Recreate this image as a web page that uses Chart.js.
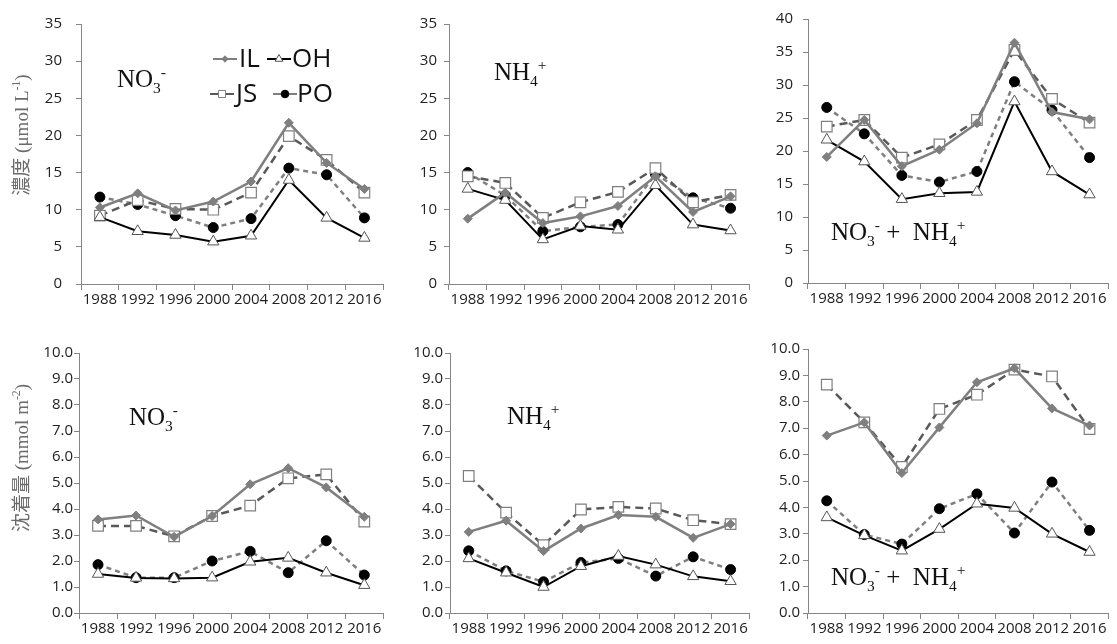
<!DOCTYPE html>
<html>
<head>
<meta charset="utf-8">
<script src="https://cdn.jsdelivr.net/npm/chart.js@4.4.1/dist/chart.umd.min.js"></script>
<style>
  html, body { margin: 0; padding: 0; background: #fff; }
  #wrap { position: relative; width: 1117px; height: 644px; overflow: hidden; }
  #wrap canvas { position: absolute; }
</style>
</head>
<body>
<div id="wrap"></div>
<script>
// ---- data ----
const years = ['1988', '1992', '1996', '2000', '2004', '2008', '2012', '2016'];
const sites = ['IL', 'OH', 'JS', 'PO'];

// concentration, umol L-1
const no3ConcIL = [10.3, 12.2, 9.9, 11.1, 13.8, 21.7, 16.3, 12.8];
const no3ConcOH = [9.0, 7.1, 6.6, 5.7, 6.5, 14.0, 8.9, 6.2];
const no3ConcJS = [9.2, 11.3, 10.1, 10.0, 12.3, 19.9, 16.7, 12.3];
const no3ConcPO = [11.7, 10.7, 9.2, 7.6, 8.8, 15.6, 14.7, 8.9];

const nh4ConcIL = [8.8, 12.3, 8.2, 9.1, 10.5, 14.5, 9.7, 11.8];
const nh4ConcOH = [12.8, 11.3, 6.0, 7.8, 7.3, 13.3, 8.0, 7.2];
const nh4ConcJS = [14.5, 13.6, 8.9, 11.0, 12.4, 15.6, 11.0, 12.0];
const nh4ConcPO = [15.0, 11.9, 7.1, 7.7, 8.0, 14.8, 11.6, 10.2];

const sumConcIL = [19.1, 24.7, 17.7, 20.2, 24.2, 36.4, 25.9, 24.8];
const sumConcOH = [21.7, 18.4, 12.7, 13.6, 13.8, 27.5, 16.9, 13.4];
const sumConcJS = [23.7, 24.7, 19.0, 21.0, 24.7, 35.3, 27.9, 24.3];
const sumConcPO = [26.6, 22.6, 16.3, 15.3, 16.9, 30.5, 26.2, 19.0];

// deposition, mmol m-2
const no3DepIL = [3.6, 3.75, 2.93, 3.73, 4.95, 5.57, 4.83, 3.7];
const no3DepOH = [1.5, 1.35, 1.33, 1.36, 1.97, 2.12, 1.55, 1.07];
const no3DepJS = [3.35, 3.35, 2.95, 3.73, 4.13, 5.18, 5.33, 3.52];
const no3DepPO = [1.86, 1.36, 1.36, 2.0, 2.37, 1.55, 2.78, 1.46];

const nh4DepIL = [3.12, 3.55, 2.38, 3.25, 3.77, 3.7, 2.89, 3.42];
const nh4DepOH = [2.1, 1.55, 1.0, 1.8, 2.19, 1.86, 1.41, 1.22];
const nh4DepJS = [5.27, 3.86, 2.61, 3.98, 4.08, 4.02, 3.57, 3.42];
const nh4DepPO = [2.39, 1.62, 1.2, 1.94, 2.1, 1.42, 2.16, 1.67];

const sumDepIL = [6.72, 7.22, 5.3, 7.03, 8.74, 9.27, 7.75, 7.1];
const sumDepOH = [3.62, 2.94, 2.36, 3.18, 4.14, 3.98, 3.0, 2.31];
const sumDepJS = [8.65, 7.22, 5.53, 7.73, 8.27, 9.22, 8.96, 6.97];
const sumDepPO = [4.25, 2.97, 2.61, 3.95, 4.51, 3.03, 4.96, 3.13];

// ---- styles ----
const seriesStyle = {
  IL: { borderColor: '#7f7f7f', borderWidth: 2.5, pointStyle: 'rectRot', pointRadius: 4.5,
        pointBackgroundColor: '#7f7f7f', pointBorderColor: '#7f7f7f', pointBorderWidth: 1 },
  OH: { borderColor: '#000', borderWidth: 2, pointStyle: 'triangle', pointRadius: 6.5,
        pointBackgroundColor: '#fff', pointBorderColor: '#555', pointBorderWidth: 1 },
  JS: { borderColor: '#595959', borderWidth: 2.5, borderDash: [8, 5], pointStyle: 'rect', pointRadius: 7.5,
        pointBackgroundColor: '#fff', pointBorderColor: '#7f7f7f', pointBorderWidth: 1.2 },
  PO: { borderColor: '#7f7f7f', borderWidth: 2.5, borderDash: [5, 4], pointStyle: 'circle', pointRadius: 5,
        pointBackgroundColor: '#000', pointBorderColor: '#000', pointBorderWidth: 1 },
};
// smaller markers in the legend
const legendRadius = { IL: 3.2, OH: 4.5, JS: 5, PO: 3.8 };

const NO3 = [{ t: 'NO' }, { t: '3', sub: true }, { t: '-', sup: true }];
const NH4 = [{ t: 'NH' }, { t: '4', sub: true }, { t: '+', sup: true }];
const SUM = [...NO3, { t: ' +  ' }, ...NH4];
const concTitle = [{ t: '濃度', cjk: true }, { t: ' (μmol L' }, { t: '-1', sup: true }, { t: ')' }];
const depTitle = [{ t: '沈着量', cjk: true }, { t: ' (mmol m' }, { t: '-2', sup: true }, { t: ')' }];

// canvas box [x, y, w, h] and plot area [left, top, right, bottom], page pixels
const panels = [
  { box: [0, 0, 392, 320], area: [81, 24, 388, 284], max: 35, step: 5, dec: 0, ypad: 14,
    data: [no3ConcIL, no3ConcOH, no3ConcJS, no3ConcPO], label: NO3, labelAt: [36, 63],
    title: concTitle, titleAt: [21, 111], legend: true },
  { box: [392, 0, 366, 320], area: [449, 24, 755, 284], max: 35, step: 5, dec: 0, ypad: 7,
    data: [nh4ConcIL, nh4ConcOH, nh4ConcJS, nh4ConcPO], label: NH4, labelAt: [45, 56] },
  { box: [758, 0, 359, 320], area: [808, 16, 1113, 283], max: 40, step: 5, dec: 0, ypad: 10,
    data: [sumConcIL, sumConcOH, sumConcJS, sumConcPO], label: SUM, labelAt: [23, 221] },
  { box: [0, 320, 392, 324], area: [79, 353, 387, 613], max: 10, step: 1, dec: 1, ypad: 1,
    data: [no3DepIL, no3DepOH, no3DepJS, no3DepPO], label: NO3, labelAt: [50, 72],
    title: depTitle, titleAt: [21, 105] },
  { box: [392, 320, 366, 324], area: [450, 353, 757, 613], max: 10, step: 1, dec: 1, ypad: 2,
    data: [nh4DepIL, nh4DepOH, nh4DepJS, nh4DepPO], label: NH4, labelAt: [57, 71] },
  { box: [758, 320, 359, 324], area: [808, 349, 1115, 613], max: 10, step: 1, dec: 1, ypad: 3,
    data: [sumDepIL, sumDepOH, sumDepJS, sumDepPO], label: SUM, labelAt: [23, 236] },
];

// legend layout inside panel 1, relative to the plot area
const legendSpots = {
  IL: { mx: 144, tx: 158, y: 35 },
  OH: { mx: 198, tx: 211, y: 35 },
  JS: { mx: 141, tx: 155, y: 70 },
  PO: { mx: 204, tx: 216, y: 70 },
};

const SERIF = "'Liberation Serif', 'Times New Roman', serif";
const SANS = "'Open Sans', 'Noto Sans', sans-serif";
const CJK = "'Noto Sans CJK JP', sans-serif";

// draws text runs with sub/superscripts, starting at x on baseline y
function richWidth(ctx, runs, size, family) {
  let w = 0;
  runs.forEach((r) => {
    const s = r.sub || r.sup ? size * 0.62 : size;
    ctx.font = `${s}px ${r.cjk ? CJK : family}`;
    w += ctx.measureText(r.t).width;
  });
  return w;
}
function drawRich(ctx, runs, x, y, size, family) {
  ctx.textBaseline = 'alphabetic';
  ctx.textAlign = 'left';
  runs.forEach((r) => {
    const s = r.sub || r.sup ? size * 0.62 : size;
    ctx.font = `${s}px ${r.cjk ? CJK : family}`;
    const dy = r.sub ? size * 0.22 : r.sup ? -size * 0.42 : 0;
    ctx.fillText(r.t, x, y + dy);
    x += ctx.measureText(r.t).width;
  });
}

const extras = {
  id: 'extras',
  afterDraw(chart) {
    const p = chart.options.plugins.extras;
    const ctx = chart.ctx;
    const a = chart.chartArea;
    ctx.save();
    // panel label (NO3-, NH4+ ...)
    ctx.fillStyle = '#111';
    drawRich(ctx, p.label, a.left + p.labelAt[0], a.top + p.labelAt[1], 25, SERIF);
    // y axis title, rotated
    if (p.title) {
      ctx.save();
      ctx.fillStyle = '#6b6b6b';
      ctx.translate(p.titleAt[0], a.top + p.titleAt[1]);
      ctx.rotate(-Math.PI / 2);
      const w = richWidth(ctx, p.title, 19, SERIF);
      drawRich(ctx, p.title, -w / 2, 7, 19, SERIF);
      ctx.restore();
    }
    // legend
    if (p.legend) {
      chart.data.datasets.forEach((ds) => {
        const s = legendSpots[ds.label];
        const st = seriesStyle[ds.label];
        const mx = a.left + s.mx, my = a.top + s.y;
        ctx.strokeStyle = st.borderColor;
        ctx.lineWidth = 2;
        ctx.setLineDash([]);
        ctx.beginPath();
        ctx.moveTo(mx - 12, my);
        ctx.lineTo(mx + 12, my);
        ctx.stroke();
        ctx.fillStyle = st.pointBackgroundColor;
        ctx.strokeStyle = st.pointBorderColor;
        ctx.lineWidth = 1;
        Chart.helpers.drawPoint(ctx, { pointStyle: st.pointStyle, radius: legendRadius[ds.label], rotation: 0, borderWidth: 1 }, mx, my);
        ctx.fillStyle = '#111';
        ctx.font = `26px ${SANS}`;
        ctx.textBaseline = 'middle';
        ctx.textAlign = 'left';
        ctx.fillText(ds.label, a.left + s.tx, my + 1);
      });
    }
    ctx.restore();
  },
};

const wrap = document.getElementById('wrap');

panels.forEach((pn) => {
  const [bx, by, bw, bh] = pn.box;
  const [al, at, ar, ab] = pn.area;
  const cv = document.createElement('canvas');
  cv.width = bw; cv.height = bh;
  cv.style.left = bx + 'px'; cv.style.top = by + 'px';
  cv.style.width = bw + 'px'; cv.style.height = bh + 'px';
  wrap.appendChild(cv);

  const datasets = sites.map((name, i) => ({
    label: name,
    data: pn.data[i],
    fill: false,
    tension: 0,
    ...seriesStyle[name],
    pointHoverRadius: seriesStyle[name].pointRadius,
  }));

  new Chart(cv.getContext('2d'), {
    type: 'line',
    data: { labels: years, datasets },
    options: {
      responsive: false,
      animation: false,
      devicePixelRatio: 1,
      layout: { padding: { top: at - by, right: bx + bw - ar, left: 0, bottom: 0 } },
      scales: {
        x: {
          type: 'category',
          offset: true,
          grid: { offset: true, drawOnChartArea: false, drawTicks: true, tickLength: 6, tickColor: '#868686', lineWidth: 1 },
          border: { color: '#868686', width: 1 },
          ticks: { autoSkip: false, maxRotation: 0, color: '#222', padding: 1,
                   font: { family: SANS, size: 15 } },
          afterFit(scale) { scale.height = by + bh - ab; },
        },
        y: {
          min: 0, max: pn.max,
          grid: { drawOnChartArea: false, drawTicks: true, tickLength: 5, tickColor: '#868686', lineWidth: 1 },
          border: { color: '#868686', width: 1 },
          ticks: { stepSize: pn.step, color: '#222', padding: pn.ypad,
                   font: { family: SANS, size: 15 },
                   callback: (v) => Number(v).toFixed(pn.dec) },
          afterFit(scale) { scale.width = al - bx; },
        },
      },
      plugins: {
        legend: { display: false },
        tooltip: { enabled: false },
        extras: { label: pn.label, labelAt: pn.labelAt, title: pn.title, titleAt: pn.titleAt, legend: !!pn.legend },
      },
    },
    plugins: [extras],
  });
});
</script>
</body>
</html>
